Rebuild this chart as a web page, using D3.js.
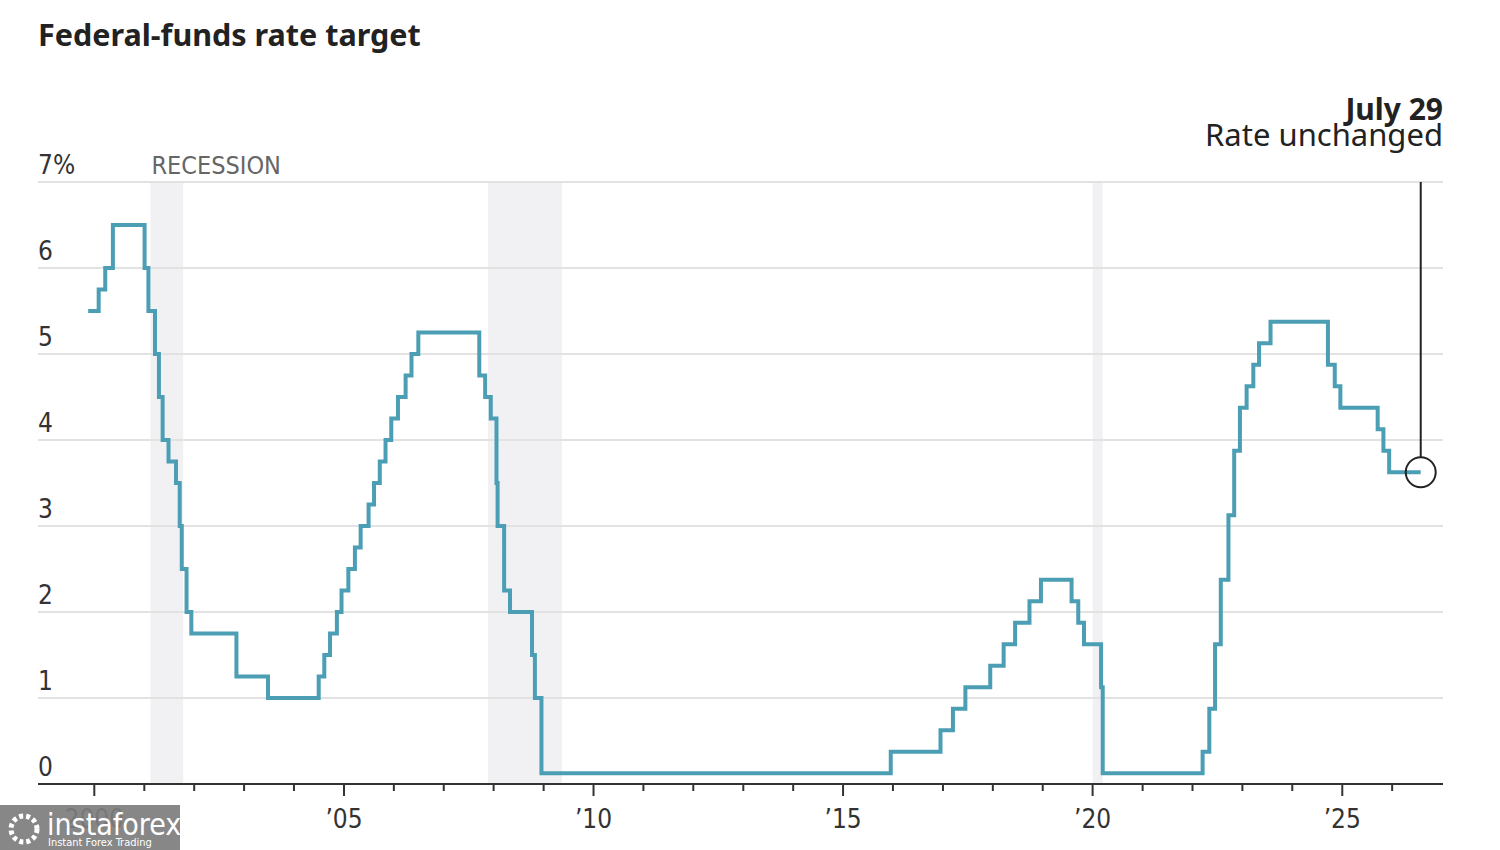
<!DOCTYPE html>
<html>
<head>
<meta charset="utf-8">
<script src="https://cdn.jsdelivr.net/npm/d3@7"></script>
<style>
  body { margin: 0; background: #fff; }
  svg { display: block; }
</style>
</head>
<body>
<div id="chart"></div>
<script>
// rate target (midpoint of range), value holds from each date onward
const changeDates = [
  "1999-11-17", "2000-02-02", "2000-03-21", "2000-05-16",
  "2001-01-03", "2001-01-31", "2001-03-20", "2001-04-18", "2001-05-15", "2001-06-27",
  "2001-08-21", "2001-09-17", "2001-10-02", "2001-11-06", "2001-12-11",
  "2002-11-06", "2003-06-25",
  "2004-06-30", "2004-08-10", "2004-09-21", "2004-11-10", "2004-12-14",
  "2005-02-02", "2005-03-22", "2005-05-03", "2005-06-30", "2005-08-09", "2005-09-20",
  "2005-11-01", "2005-12-13", "2006-01-31", "2006-03-28", "2006-05-10", "2006-06-29",
  "2007-09-18", "2007-10-31", "2007-12-11",
  "2008-01-22", "2008-01-30", "2008-03-18", "2008-04-30", "2008-10-08", "2008-10-29", "2008-12-16",
  "2015-12-16", "2016-12-14", "2017-03-15", "2017-06-14", "2017-12-13",
  "2018-03-21", "2018-06-13", "2018-09-26", "2018-12-19",
  "2019-07-31", "2019-09-18", "2019-10-30", "2020-03-03", "2020-03-15",
  "2022-03-16", "2022-05-04", "2022-06-15", "2022-07-27", "2022-09-21", "2022-11-02", "2022-12-14",
  "2023-02-01", "2023-03-22", "2023-05-03", "2023-07-26",
  "2024-09-18", "2024-11-07", "2024-12-18",
  "2025-09-17", "2025-10-29", "2025-12-10", "2026-07-29"
];
const rates = [
  5.5, 5.75, 6.0, 6.5,
  6.0, 5.5, 5.0, 4.5, 4.0, 3.75,
  3.5, 3.0, 2.5, 2.0, 1.75,
  1.25, 1.0,
  1.25, 1.5, 1.75, 2.0, 2.25,
  2.5, 2.75, 3.0, 3.25, 3.5, 3.75,
  4.0, 4.25, 4.5, 4.75, 5.0, 5.25,
  4.75, 4.5, 4.25,
  3.5, 3.0, 2.25, 2.0, 1.5, 1.0, 0.125,
  0.375, 0.625, 0.875, 1.125, 1.375,
  1.625, 1.875, 2.125, 2.375,
  2.125, 1.875, 1.625, 1.125, 0.125,
  0.375, 0.875, 1.625, 2.375, 3.125, 3.875, 4.375,
  4.625, 4.875, 5.125, 5.375,
  4.875, 4.625, 4.375,
  4.125, 3.875, 3.625, 3.625
];
const recessions = [
  ["2001-02-15", "2001-10-12"],
  ["2007-11-20", "2009-05-15"],
  ["2020-01-01", "2020-03-15"]
];
const yTicks = [0, 1, 2, 3, 4, 5, 6, 7];
const xMajorYears = [2000, 2005, 2010, 2015, 2020, 2025];
const xLabels = ["2000", "\u201905", "\u201910", "\u201915", "\u201920", "\u201925"];

const parse = d3.timeParse("%Y-%m-%d");
const data = changeDates.map((d, i) => ({ date: parse(d), rate: rates[i] }));
const last = data[data.length - 1];

const width = 1500, height = 850;
const plotLeft = 38, plotRight = 1443, plotTop = 182, plotBottom = 784;

const svg = d3.select("#chart").append("svg")
  .attr("width", width).attr("height", height);

const x = d3.scaleTime()
  .domain([parse("1998-11-15"), parse("2027-01-08")])
  .range([plotLeft, plotRight]);
const y = d3.scaleLinear().domain([0, 7]).range([plotBottom, plotTop]);

const tickFont = "'Liberation Sans Narrow', 'DejaVu Sans Condensed', sans-serif";
const textFont = "'Noto Sans', 'DejaVu Sans', sans-serif";

// recession shading
svg.append("g").selectAll("rect").data(recessions).join("rect")
  .attr("x", d => x(parse(d[0])))
  .attr("width", d => x(parse(d[1])) - x(parse(d[0])))
  .attr("y", y(7) + 1)
  .attr("height", y(0) - y(7) - 1)
  .attr("fill", "#f1f1f4");

// gridlines
svg.append("g").selectAll("line").data(yTicks.filter(d => d > 0)).join("line")
  .attr("x1", plotLeft).attr("x2", plotRight)
  .attr("y1", d => y(d)).attr("y2", d => y(d))
  .attr("stroke", "#e2e2e2").attr("stroke-width", 2);

// y labels sit above their gridline
svg.append("g").selectAll("text").data(yTicks).join("text")
  .attr("x", plotLeft)
  .attr("y", d => y(d) - 8)
  .attr("font-family", tickFont)
  .attr("font-size", 26)
  .attr("fill", "#333")
  .text(d => d === 7 ? "7%" : d);

svg.append("text")
  .attr("x", x(parse(recessions[0][0])) + 1)
  .attr("y", y(7) - 8)
  .attr("font-family", tickFont)
  .attr("font-size", 25)
  .attr("fill", "#666")
  .text("RECESSION");

// x axis
const years = d3.range(2000, 2027);
svg.append("g").selectAll("line").data(years).join("line")
  .attr("x1", d => x(new Date(d, 0, 1))).attr("x2", d => x(new Date(d, 0, 1)))
  .attr("y1", plotBottom)
  .attr("y2", d => plotBottom + (d % 5 === 0 ? 12 : 7))
  .attr("stroke", "#333").attr("stroke-width", 2);

svg.append("line")
  .attr("x1", plotLeft).attr("x2", plotRight)
  .attr("y1", plotBottom).attr("y2", plotBottom)
  .attr("stroke", "#333").attr("stroke-width", 2);

svg.append("g").selectAll("text").data(xMajorYears).join("text")
  .attr("x", d => x(new Date(d, 0, 1)))
  .attr("y", 828)
  .attr("text-anchor", "middle")
  .attr("font-family", tickFont)
  .attr("font-size", 26)
  .attr("fill", "#333")
  .text((d, i) => xLabels[i]);

// rate line
const line = d3.line()
  .x(d => x(d.date))
  .y(d => y(d.rate))
  .curve(d3.curveStepAfter);

svg.append("path")
  .datum(data)
  .attr("fill", "none")
  .attr("stroke", "#4b9eb4")
  .attr("stroke-width", 4)
  .attr("d", line);

// annotation
const cx = x(last.date), cy = y(last.rate), r = 15;
svg.append("line")
  .attr("x1", cx).attr("x2", cx)
  .attr("y1", plotTop).attr("y2", cy - r)
  .attr("stroke", "#222").attr("stroke-width", 2);
svg.append("circle")
  .attr("cx", cx).attr("cy", cy).attr("r", r)
  .attr("fill", "none").attr("stroke", "#222").attr("stroke-width", 2);

svg.append("text")
  .attr("x", plotRight).attr("y", 120)
  .attr("text-anchor", "end")
  .attr("font-family", textFont)
  .attr("font-weight", 700)
  .attr("font-size", 30)
  .attr("fill", "#222")
  .text("July 29");
svg.append("text")
  .attr("x", plotRight).attr("y", 146)
  .attr("text-anchor", "end")
  .attr("font-family", textFont)
  .attr("font-size", 31)
  .attr("fill", "#222")
  .text("Rate unchanged");

// title
svg.append("text")
  .attr("x", 38).attr("y", 46)
  .attr("font-family", textFont)
  .attr("font-weight", 700)
  .attr("font-size", 30.5)
  .attr("fill", "#222")
  .text("Federal-funds rate target");

// watermark box
const wm = svg.append("g").attr("transform", "translate(0,805)");
wm.append("rect").attr("width", 180).attr("height", 45).attr("fill", "#7d7d7d").attr("opacity", 0.92);
wm.append("text").attr("x", 47).attr("y", 30)
  .attr("font-family", tickFont).attr("font-size", 30).attr("fill", "#fff").text("instaforex");
wm.append("text").attr("x", 48).attr("y", 41)
  .attr("font-family", tickFont).attr("font-size", 11).attr("fill", "#fff").text("Instant Forex Trading");
wm.append("circle").attr("cx", 24).attr("cy", 24).attr("r", 13)
  .attr("fill", "none").attr("stroke", "#fff").attr("stroke-width", 5).attr("stroke-dasharray", "4 3");
</script>
</body>
</html>
